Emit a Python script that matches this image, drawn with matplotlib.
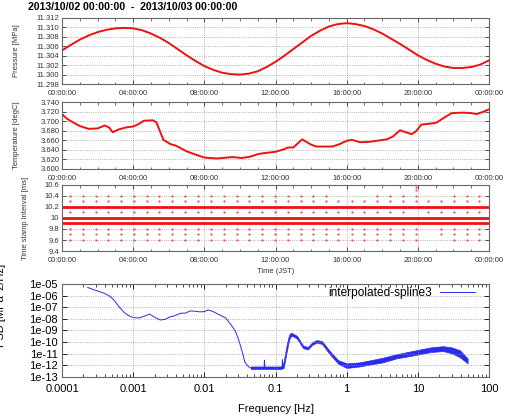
import numpy as np
import matplotlib
matplotlib.use("Agg")
import matplotlib.pyplot as plt
from matplotlib.ticker import FixedLocator, MultipleLocator, FormatStrFormatter, LogLocator, NullFormatter

plt.rcParams["font.family"] = ["Liberation Sans", "DejaVu Sans"]

TITLE = "2013/10/02 00:00:00  -  2013/10/03 00:00:00"
TIME_LABELS = ["00:00:00", "04:00:00", "08:00:00", "12:00:00", "16:00:00", "20:00:00", "00:00:00"]
TIME_TICKS = [0, 4, 8, 12, 16, 20, 24]

# pressure, every half hour
pres_hours = [0, 0.5, 1, 1.5, 2, 2.5, 3, 3.5, 4, 4.5, 5, 5.5, 6, 6.5, 7, 7.5, 8, 8.5, 9, 9.5,
              10, 10.5, 11, 11.5, 12, 12.5, 13, 13.5, 14, 14.5, 15, 15.5, 16, 16.5, 17, 17.5,
              18, 18.5, 19, 19.5, 20, 20.5, 21, 21.5, 22, 22.5, 23, 23.5, 24]
pres_vals = [11.3051, 11.3063, 11.3074, 11.3083, 11.3090, 11.3095, 11.3098, 11.3099, 11.3098,
             11.3094, 11.3087, 11.3078, 11.3067, 11.3054, 11.3041, 11.3029, 11.3018, 11.3010,
             11.3004, 11.3001, 11.3000, 11.3002, 11.3007, 11.3016, 11.3027, 11.3040, 11.3054,
             11.3068, 11.3082, 11.3093, 11.3102, 11.3107, 11.3109, 11.3107, 11.3103, 11.3096,
             11.3087, 11.3076, 11.3065, 11.3053, 11.3041, 11.3031, 11.3023, 11.3017, 11.3014,
             11.3014, 11.3016, 11.3021, 11.3030]

# temperature
temp_hours = [0, 0.25, 0.6, 1.0, 1.5, 2.0, 2.4, 2.65, 2.85, 3.2, 3.6, 4.0, 4.3, 4.6, 5.1,
              5.3, 5.7, 6.1, 6.4, 7.0, 7.6, 8.0, 8.7, 9.6, 10.1, 10.6, 11.0, 11.3, 12.0,
              12.45, 12.7, 13.0, 13.5, 14.0, 14.3, 15.2, 15.6, 16.0, 16.3, 16.75, 17.3,
              18.25, 18.6, 19.0, 19.4, 19.65, 19.9, 20.2, 20.7, 21.05, 21.5, 21.9, 22.55,
              23.0, 23.3, 23.7, 24.0]
temp_vals = [3.715, 3.706, 3.698, 3.690, 3.684, 3.685, 3.691, 3.687, 3.677, 3.683, 3.687,
             3.689, 3.694, 3.701, 3.702, 3.698, 3.661, 3.652, 3.649, 3.637, 3.629, 3.624,
             3.622, 3.625, 3.623, 3.626, 3.631, 3.633, 3.636, 3.641, 3.645, 3.645, 3.662,
             3.651, 3.647, 3.647, 3.652, 3.659, 3.661, 3.656, 3.657, 3.662, 3.668, 3.681,
             3.676, 3.673, 3.679, 3.693, 3.695, 3.697, 3.708, 3.717, 3.718, 3.717, 3.715,
             3.720, 3.725]

# time stamp interval
dense_levels = [10.2, 10.0, 9.9]
sparse_levels = [10.4, 10.3, 10.1, 9.8, 9.7, 9.6]
sparse_cols = [0.45, 1.16, 1.89, 2.6, 3.32, 4.05, 4.76, 5.47, 6.2, 6.91, 7.63, 8.38, 9.09,
               9.82, 10.53, 11.26, 11.97, 12.69, 13.42, 14.13, 14.82, 15.53, 16.28, 16.98,
               17.72, 18.44, 19.15, 19.88, 20.59, 21.3, 22.03, 22.75, 23.46]
sparse_missing = {10.4: [21, 22, 23, 28, 29], 10.3: [], 10.1: [27],
                  9.8: [28], 9.7: [28], 9.6: [28, 29]}
extra_hours = [19.88, 19.88]
extra_vals = [10.5, 10.56]

# PSD
psd_freq = [2.3e-4, 3e-4, 4e-4, 4.8e-4, 5.5e-4, 6.5e-4, 7.5e-4, 8.5e-4, 1e-3, 1.2e-3, 1.4e-3,
            1.7e-3, 2e-3, 2.4e-3, 2.8e-3, 3.3e-3, 3.8e-3, 4.6e-3, 5.5e-3, 6.3e-3, 7.5e-3,
            8.7e-3, 1e-2, 1.13e-2, 1.3e-2, 1.66e-2, 2e-2, 2.3e-2, 2.7e-2, 3.0e-2, 3.2e-2,
            3.5e-2, 3.7e-2, 4.0e-2, 4.4e-2, 6e-2, 6.9e-2, 7e-2, 7.1e-2, 0.1, 0.124, 0.125,
            0.126, 0.13]
psd_vals = [5e-6, 2.8e-6, 1.5e-6, 8e-7, 3.5e-7, 9e-8, 3.5e-8, 2e-8, 1.3e-8, 1.2e-8, 1.6e-8,
            2.6e-8, 1.4e-8, 8e-9, 9e-9, 1.5e-8, 1.8e-8, 3e-8, 3.2e-8, 4.8e-8, 4.5e-8, 4e-8,
            4.2e-8, 5.8e-8, 4.5e-8, 2.1e-8, 1.2e-8, 4e-9, 1e-9, 2e-10, 5.5e-11, 8e-12, 2e-12,
            1e-12, 6e-13, 6e-13, 6e-13, 2.8e-12, 6e-13, 6e-13, 6e-13, 3e-12, 6e-13, 1e-12]
band_freq = [0.045, 0.12, 0.13, 0.145, 0.155, 0.165, 0.18, 0.2, 0.245, 0.285, 0.33, 0.38,
             0.45, 0.58, 0.76, 1.0, 1.5, 2.0, 3.2, 5.0, 9.5, 15, 22.6, 30, 39, 45, 50]
band_lo = [5e-13, 5e-13, 6e-13, 2e-11, 1.5e-10, 3.5e-10, 3e-10, 2e-10, 3e-11, 2.3e-11, 6e-11,
           9e-11, 7e-11, 9e-12, 1.4e-12, 6e-13, 8e-13, 1.1e-12, 1.8e-12, 4e-12, 8e-12,
           1.4e-11, 1.7e-11, 1.1e-11, 5e-12, 2.5e-12, 1.5e-12]
band_hi = [8e-13, 8e-13, 2e-12, 8e-11, 4e-10, 6.5e-10, 5e-10, 3.5e-10, 5e-11, 3.8e-11, 1e-10,
           1.5e-10, 1.2e-10, 1.7e-11, 2.8e-12, 1.5e-12, 1.8e-12, 2.5e-12, 4.5e-12, 9e-12,
           2e-11, 3.5e-11, 4.5e-11, 3.5e-11, 2e-11, 8e-12, 4e-12]

RED = "#ee1111"
BLUE = "#2a2af0"
GRID = dict(color="#999999", linestyle=":", linewidth=0.6)
SMALL = 5.5
BIG = 8


def style_time_axis(ax):
    ax.set_xlim(0, 24)
    ax.xaxis.set_major_locator(FixedLocator(TIME_TICKS))
    ax.set_xticklabels(TIME_LABELS)
    ax.xaxis.set_minor_locator(MultipleLocator(1))
    ax.tick_params(which="both", direction="in", top=True, right=True,
                   labelsize=SMALL, colors="#333333", pad=2)
    ax.tick_params(axis="x", which="major", pad=4)
    ax.tick_params(which="major", length=3, width=0.6)
    ax.tick_params(which="minor", length=1.8, width=0.5)
    for s in ax.spines.values():
        s.set_color("#666666")
        s.set_linewidth(0.8)
    ax.grid(True, which="major", **GRID)


fig = plt.figure(figsize=(5.09, 4.18), dpi=100)
L, W = 62 / 509, 427 / 509

ax1 = fig.add_axes([L, 0.799, W, 0.158])
ax1.plot(pres_hours, pres_vals, color=RED, lw=1.4)
ax1.set_ylim(11.298, 11.312)
ax1.yaxis.set_major_locator(MultipleLocator(0.002))
ax1.yaxis.set_major_formatter(FormatStrFormatter("%.3f"))
style_time_axis(ax1)
ax1.set_ylabel("Pressure [MPa]", fontsize=SMALL, color="#333333")
ax1.yaxis.set_label_coords(-0.098, 0.5)
fig.text(28 / 509, 1 - 7 / 418, TITLE, fontsize=7.6, fontweight="bold", va="center", ha="left")

ax2 = fig.add_axes([L, 0.5957, W, 0.160])
ax2.plot(temp_hours, temp_vals, color=RED, lw=1.4)
ax2.set_ylim(3.600, 3.740)
ax2.yaxis.set_major_locator(MultipleLocator(0.02))
ax2.yaxis.set_major_formatter(FormatStrFormatter("%.3f"))
style_time_axis(ax2)
ax2.set_ylabel("Temperature [degC]", fontsize=SMALL, color="#333333")
ax2.yaxis.set_label_coords(-0.098, 0.5)

ax3 = fig.add_axes([L, 0.3995, W, 0.158])
ax3.hlines(dense_levels, 0, 24, color=RED, lw=2.0)
for level in sparse_levels:
    hrs = [h for i, h in enumerate(sparse_cols) if i not in sparse_missing[level]]
    ax3.plot(hrs, [level] * len(hrs), "o", color="#f03030", ms=1.6, mec="none", alpha=0.85)
ax3.plot(extra_hours, extra_vals, "o", color="#f03030", ms=1.6, mec="none", alpha=0.85)
ax3.set_ylim(9.4, 10.6)
ax3.yaxis.set_major_locator(MultipleLocator(0.2))
ax3.yaxis.set_major_formatter(FormatStrFormatter("%g"))
style_time_axis(ax3)
ax3.set_ylabel("Time stamp interval [ms]", fontsize=SMALL, color="#333333")
ax3.yaxis.set_label_coords(-0.077, 0.5)
ax3.set_xlabel("Time (JST)", fontsize=SMALL, color="#333333", labelpad=3)

ax4 = fig.add_axes([L, 0.0981, W, 0.2225])
ax4.set_xscale("log")
ax4.set_yscale("log")
ax4.plot(psd_freq, psd_vals, color=BLUE, lw=0.7, label="interpolated-spline3")
ax4.fill_between(band_freq, band_lo, band_hi, color=BLUE, lw=0.5, edgecolor=BLUE)
ax4.set_xlim(1e-4, 100)
ax4.set_ylim(1e-13, 1e-5)
ax4.xaxis.set_major_locator(FixedLocator([1e-4, 1e-3, 1e-2, 1e-1, 1, 10, 100]))
ax4.set_xticklabels(["0.0001", "0.001", "0.01", "0.1", "1", "10", "100"])
ax4.xaxis.set_minor_locator(LogLocator(base=10, subs=np.arange(2, 10), numticks=20))
ax4.xaxis.set_minor_formatter(NullFormatter())
ytk = [10.0 ** e for e in range(-13, -4)]
ax4.yaxis.set_major_locator(FixedLocator(ytk))
ax4.set_yticklabels(["1e-%02d" % (-e) for e in range(-13, -4)])
ax4.yaxis.set_minor_locator(FixedLocator([]))
ax4.tick_params(which="both", direction="in", top=True, right=True, labelsize=BIG, pad=3)
ax4.tick_params(axis="x", which="major", pad=5)
ax4.tick_params(which="major", length=3.5, width=0.6)
ax4.tick_params(which="minor", length=2, width=0.5)
for s in ax4.spines.values():
    s.set_color("#666666")
    s.set_linewidth(0.8)
ax4.grid(True, which="major", **GRID)
ax4.set_xlabel("Frequency [Hz]", fontsize=BIG, labelpad=7)
fig.text(1 / 509, 0.27, "PSD [MPa^2/Hz]", rotation=90, fontsize=BIG, ha="center", va="center")
ax4.legend(loc="upper right", frameon=False, fontsize=8.6, markerfirst=False,
           handlelength=3.0, handletextpad=0.6, bbox_to_anchor=(0.985, 1.04), borderaxespad=0.2)

fig.savefig("out.png", dpi=100)
